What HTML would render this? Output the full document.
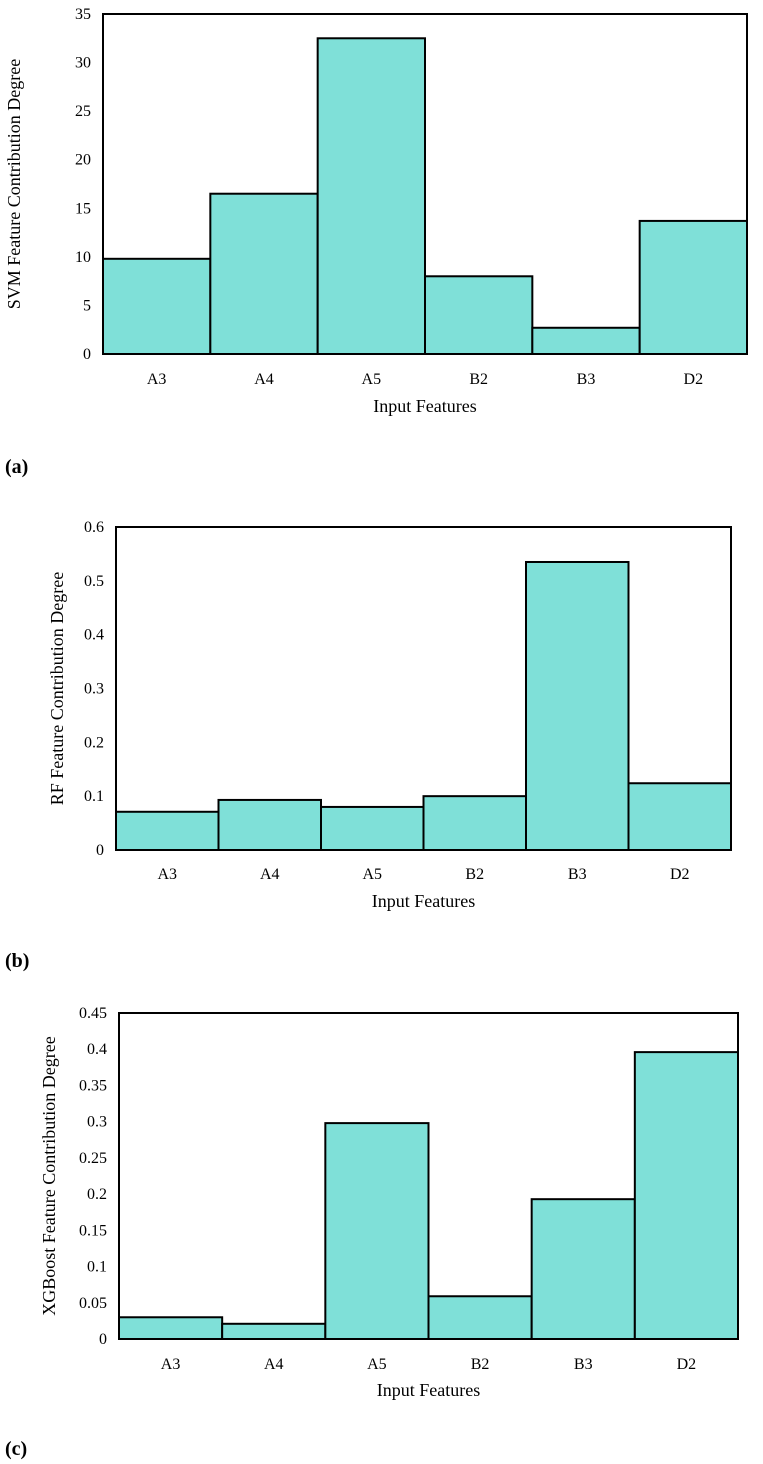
<!DOCTYPE html>
<html><head><meta charset="utf-8"><style>
html,body{margin:0;padding:0;background:#fff;}
svg{display:block;font-family:"Liberation Serif",serif;}
</style></head><body>
<svg id="fig" width="763" height="1464" viewBox="0 0 763 1464"></svg>
<script>
const categories = ["A3","A4","A5","B2","B3","D2"];
const svmValues = [9.8, 16.5, 32.5, 8.0, 2.7, 13.7];
const rfValues = [0.071, 0.093, 0.080, 0.100, 0.535, 0.124];
const xgbValues = [0.030, 0.021, 0.298, 0.059, 0.193, 0.396];
const svmTicks = ["0","5","10","15","20","25","30","35"];
const rfTicks = ["0","0.1","0.2","0.3","0.4","0.5","0.6"];
const xgbTicks = ["0","0.05","0.1","0.15","0.2","0.25","0.3","0.35","0.4","0.45"];

const NS = "http://www.w3.org/2000/svg";
const svg = document.getElementById("fig");
function mk(tag, attrs, parent){const e=document.createElementNS(NS,tag);for(const k in attrs)e.setAttribute(k,attrs[k]);(parent||svg).appendChild(e);return e;}

function drawChart(cfg){
  const g = mk("g",{});
  
  
  const L=cfg.left,R=cfg.right,T=cfg.top,B=cfg.bottom,max=cfg.max;
  const y = v => B - (v/max)*(B-T);
  const bw = (R-L)/categories.length;
  const x = i => L + i*bw;
  cfg.ticks.forEach(t=>{
    const tx = mk("text",{x:L-12,y:y(parseFloat(t))+5,"text-anchor":"end","font-size":"16",fill:"#000"},g);
    tx.textContent=t;
    
    
  });
  cfg.values.forEach((v,i)=>{
    const r = mk("rect",{x:x(i),y:y(v),width:bw,height:B-y(v),fill:"#7fe0d8",stroke:"#000","stroke-width":"2"},g);
    
    
    const lb = mk("text",{x:x(i)+bw/2,y:cfg.catY,"text-anchor":"middle","font-size":"16",fill:"#000"},g);
    lb.textContent=categories[i];
    
    
  });
  const fr = mk("rect",{x:L,y:T,width:R-L,height:B-T,fill:"none",stroke:"#000","stroke-width":"2"},g);
  
  
  const xt = mk("text",{x:(L+R)/2,y:cfg.xTitleY,"text-anchor":"middle","font-size":"18",fill:"#000"},g);
  xt.textContent="Input Features";
  
  
  const cy=(T+B)/2;
  const yt = mk("text",{x:cfg.yTitleX,y:cy,"text-anchor":"middle","font-size":"18",fill:"#000",transform:"rotate(-90 "+cfg.yTitleX+" "+cy+")"},g);
  yt.textContent=cfg.yTitle;
  
  
  const pl = mk("text",{x:5,y:cfg.panelY,"font-size":"20","font-weight":"bold",fill:"#000"},g);
  pl.textContent=cfg.panel;
  
  
}
drawChart({name:"svm-chart",left:103,right:747,top:14,bottom:354,max:35,values:svmValues,ticks:svmTicks,catY:384,xTitleY:412,yTitleX:20,yTitle:"SVM Feature Contribution Degree",panel:"(a)",panelY:473});
drawChart({name:"rf-chart",left:116,right:731,top:527,bottom:850,max:0.6,values:rfValues,ticks:rfTicks,catY:879,xTitleY:907,yTitleX:63,yTitle:"RF Feature Contribution Degree",panel:"(b)",panelY:967});
drawChart({name:"xgboost-chart",left:119,right:738,top:1013,bottom:1339,max:0.45,values:xgbValues,ticks:xgbTicks,catY:1369,xTitleY:1396,yTitleX:55,yTitle:"XGBoost Feature Contribution Degree",panel:"(c)",panelY:1455});
</script>
</body></html>
